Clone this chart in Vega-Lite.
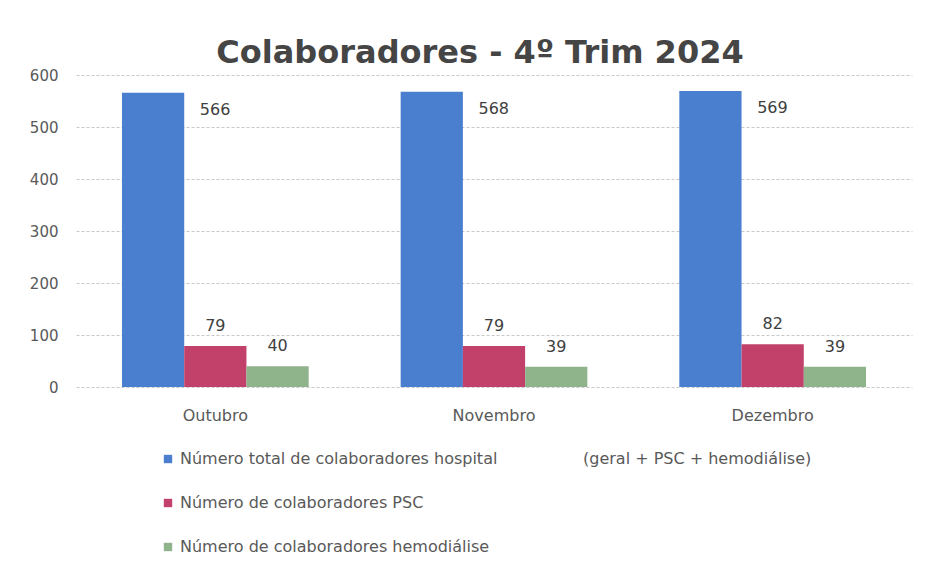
{
  "$schema": "https://vega.github.io/schema/vega-lite/v6.json",
  "width": 836,
  "height": 312,
  "autosize": {"type": "none"},
  "padding": {"left": 76, "top": 75, "right": 21, "bottom": 176},
  "background": "white",
  "title": {
    "text": "Colaboradores - 4º Trim 2024",
    "font": "DejaVu Sans",
    "fontSize": 32,
    "fontWeight": "bold",
    "color": "#454545",
    "anchor": "middle",
    "offset": -2,
    "dx": -14
  },
  "data": {
    "values": [
      {"mes": "Outubro", "serie": "Número total de colaboradores hospital", "ordem": 1, "valor": 566},
      {"mes": "Outubro", "serie": "Número de colaboradores PSC", "ordem": 2, "valor": 79},
      {"mes": "Outubro", "serie": "Número de colaboradores hemodiálise", "ordem": 3, "valor": 40},
      {"mes": "Novembro", "serie": "Número total de colaboradores hospital", "ordem": 1, "valor": 568},
      {"mes": "Novembro", "serie": "Número de colaboradores PSC", "ordem": 2, "valor": 79},
      {"mes": "Novembro", "serie": "Número de colaboradores hemodiálise", "ordem": 3, "valor": 39},
      {"mes": "Dezembro", "serie": "Número total de colaboradores hospital", "ordem": 1, "valor": 569},
      {"mes": "Dezembro", "serie": "Número de colaboradores PSC", "ordem": 2, "valor": 82},
      {"mes": "Dezembro", "serie": "Número de colaboradores hemodiálise", "ordem": 3, "valor": 39}
    ]
  },
  "encoding": {
    "x": {
      "field": "mes",
      "type": "nominal",
      "sort": ["Outubro", "Novembro", "Dezembro"],
      "scale": {"paddingInner": 0.33, "paddingOuter": 0.165},
      "axis": {
        "title": null,
        "labelAngle": 0,
        "labelFont": "DejaVu Sans",
        "labelFontSize": 16,
        "labelColor": "#595959",
        "labelPadding": 20,
        "ticks": false,
        "domain": false
      }
    },
    "xOffset": {
      "field": "serie",
      "type": "nominal",
      "sort": ["Número total de colaboradores hospital", "Número de colaboradores PSC", "Número de colaboradores hemodiálise"],
      "scale": {"paddingInner": 0, "paddingOuter": 0}
    },
    "y": {
      "field": "valor",
      "type": "quantitative",
      "scale": {"domain": [0, 600]},
      "axis": {
        "title": null,
        "values": [0, 100, 200, 300, 400, 500, 600],
        "labelFont": "DejaVu Sans",
        "labelFontSize": 15,
        "labelColor": "#595959",
        "labelPadding": 18,
        "ticks": false,
        "domain": false,
        "gridColor": "#c8c8c8",
        "gridDash": [3, 2],
        "gridWidth": 1
      }
    }
  },
  "layer": [
    {
      "mark": {"type": "bar"},
      "encoding": {
        "color": {
          "field": "serie",
          "type": "nominal",
          "sort": ["Número total de colaboradores hospital", "Número de colaboradores PSC", "Número de colaboradores hemodiálise"],
          "scale": {
            "domain": ["Número total de colaboradores hospital", "Número de colaboradores PSC", "Número de colaboradores hemodiálise"],
            "range": ["#4a7fcf", "#c2416a", "#8fb38a"]
          },
          "legend": {
            "orient": "none",
            "direction": "vertical",
            "legendX": 84,
            "legendY": 376,
            "title": "(geral + PSC + hemodiálise)",
            "titleOrient": "right",
            "titleAnchor": "start",
            "titleBaseline": "top",
            "titleAngle": 0,
            "titlePadding": 86,
            "titleLimit": 0,
            "titleFont": "DejaVu Sans",
            "titleFontSize": 16,
            "titleFontWeight": "normal",
            "titleColor": "#595959",
            "symbolType": "square",
            "symbolSize": 70,
            "symbolStrokeWidth": 0,
            "labelFont": "DejaVu Sans",
            "labelFontSize": 16,
            "labelColor": "#595959",
            "labelOffset": 4,
            "labelLimit": 0,
            "rowPadding": 28
          }
        }
      }
    },
    {
      "transform": [{"filter": "datum.ordem == 1"}],
      "mark": {"type": "text", "font": "DejaVu Sans", "fontSize": 16, "color": "#404040", "baseline": "middle", "dx": 62, "dy": 17},
      "encoding": {"text": {"field": "valor", "type": "quantitative"}}
    },
    {
      "transform": [{"filter": "datum.ordem != 1"}],
      "mark": {"type": "text", "font": "DejaVu Sans", "fontSize": 16, "color": "#404040", "baseline": "bottom", "dy": -12},
      "encoding": {"text": {"field": "valor", "type": "quantitative"}}
    }
  ],
  "config": {"view": {"stroke": null}}
}
